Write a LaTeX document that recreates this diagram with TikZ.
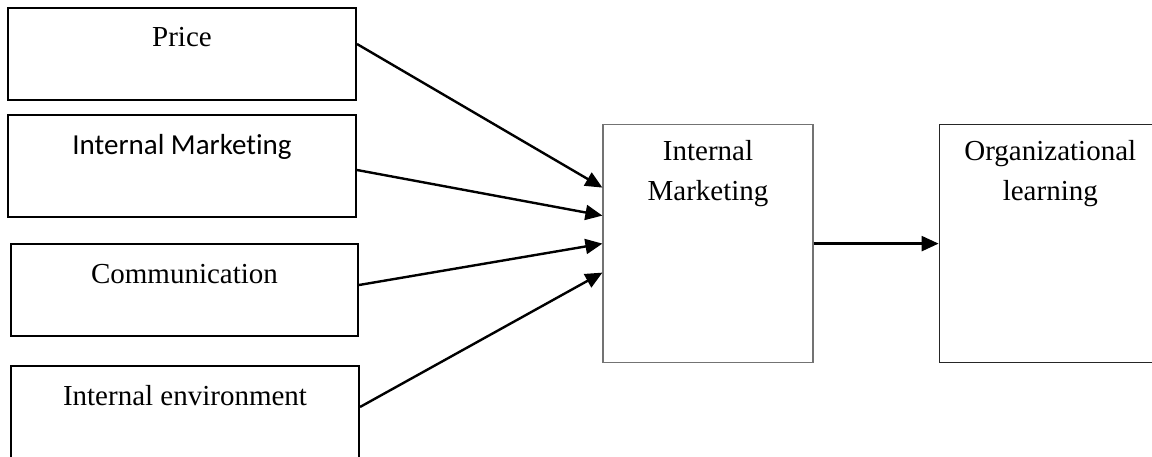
\documentclass[tikz,border=0pt]{standalone}
\usepackage{fontspec}
\setmainfont{Liberation Serif}
\newfontfamily\calibrifont[Ligatures=NoCommon]{Carlito}
\usepackage{tikz}
\usetikzlibrary{arrows.meta, positioning}

\begin{document}
\begin{tikzpicture}[
    x=0.5pt, y=-0.5pt,
    node distance=62.5pt,
    box/.style={draw,line width=1pt,inner sep=0pt,minimum width=174pt,align=center,
      text height=19.5pt,font=\fontsize{14.5pt}{20pt}\selectfont},
    bigbox/.style={box,minimum width=105pt,text height=38pt,text depth=81pt},
    arr/.style={-{Triangle[length=8.5pt,width=7.5pt]},line width=1.2pt},
  ]
    \clip (0,0) rectangle (1152,456);

    % factors on the left
    \node[box, anchor=north, text height=19pt, text depth=27pt] (price) at (182,7) {Price};
    \node[box, anchor=north, text depth=31.5pt, font=\calibrifont\fontsize{14.5pt}{20pt}\selectfont] (intmkt) at (182,114) {Internal Marketing};
    \node[box, anchor=north, minimum width=173.5pt, text depth=26.5pt] (comm) at (184.5,243) {Communication};
    \node[box, anchor=north, text depth=30.5pt] (env) at (185,365) {Internal environment};

    % mediator and outcome
    \node[bigbox, anchor=north, draw=black!55, line width=0.6pt] (mid) at (708,124) {Internal\\Marketing};
    \node[bigbox, right=of mid, minimum width=111pt, draw=black!85, line width=0.7pt] (orglearn) {Organizational\\learning};

    \draw[arr] ([yshift=5pt]price.east) -- ([yshift=28pt]mid.west);
    \draw[arr] ([yshift=-2pt]intmkt.east) -- ([yshift=14pt]mid.west);
    \draw[arr] ([yshift=2.5pt]comm.east) -- (mid.west);
    \draw[arr] ([yshift=4.5pt]env.east) -- ([yshift=-14.5pt]mid.west);
    \draw[arr] (mid) -- (orglearn);
\end{tikzpicture}
\end{document}
